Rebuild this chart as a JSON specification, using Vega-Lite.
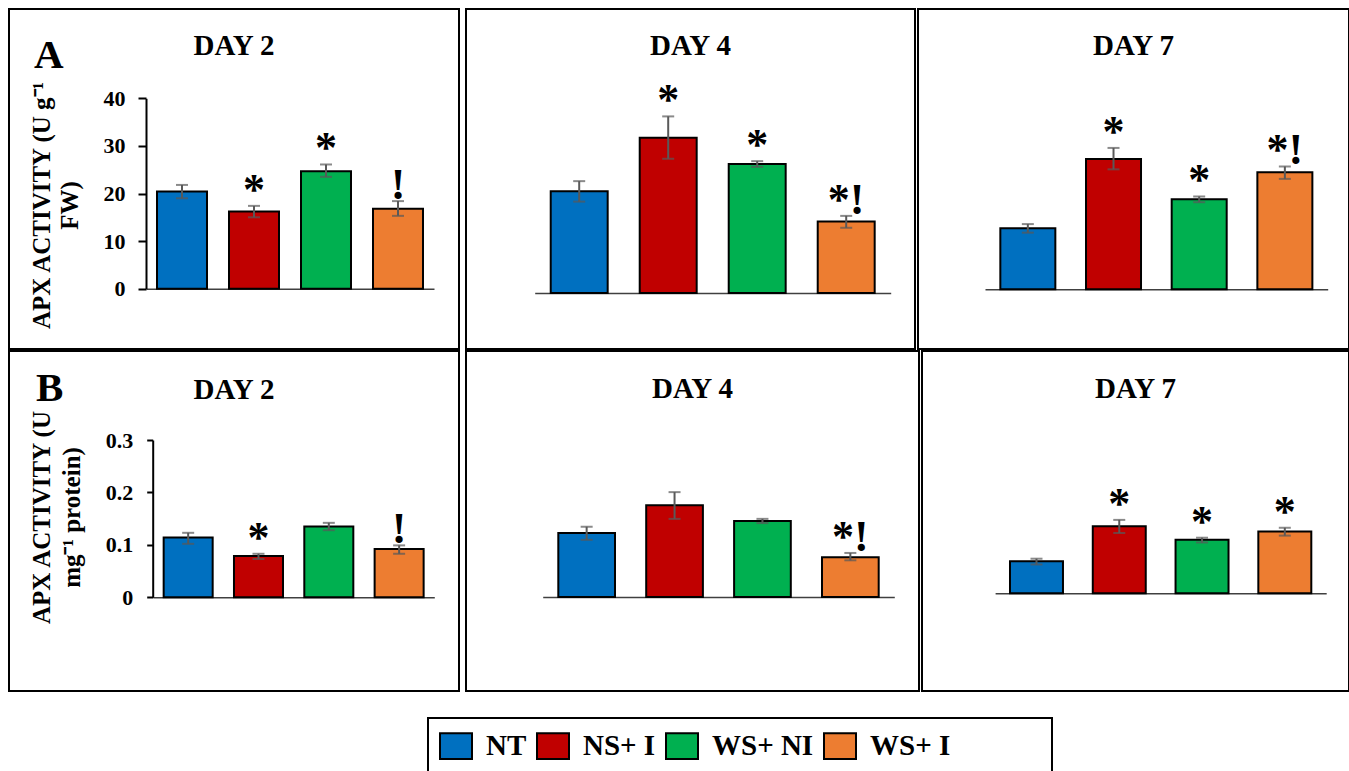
{
  "$schema": "https://vega.github.io/schema/vega-lite/v6.json",
  "padding": {"left": 8, "top": 8, "right": 0, "bottom": 0},
  "background": "#ffffff",
  "data": {"values": [
    {"row": "A", "day": 2, "trt": "NT", "value": 20.4, "lo": 19.0, "hi": 21.8, "sig": ""},
    {"row": "A", "day": 2, "trt": "NS+ I", "value": 16.2, "lo": 15.0, "hi": 17.4, "sig": "*"},
    {"row": "A", "day": 2, "trt": "WS+ NI", "value": 24.7, "lo": 23.5, "hi": 26.1, "sig": "*"},
    {"row": "A", "day": 2, "trt": "WS+ I", "value": 16.8, "lo": 15.3, "hi": 18.4, "sig": "!"},
    {"row": "A", "day": 4, "trt": "NT", "value": 21.4, "lo": 19.2, "hi": 23.5, "sig": ""},
    {"row": "A", "day": 4, "trt": "NS+ I", "value": 32.6, "lo": 28.2, "hi": 37.1, "sig": "*"},
    {"row": "A", "day": 4, "trt": "WS+ NI", "value": 27.1, "lo": 26.5, "hi": 27.7, "sig": "*"},
    {"row": "A", "day": 4, "trt": "WS+ I", "value": 15.0, "lo": 13.7, "hi": 16.2, "sig": "*!"},
    {"row": "A", "day": 7, "trt": "NT", "value": 12.8, "lo": 11.9, "hi": 13.7, "sig": ""},
    {"row": "A", "day": 7, "trt": "NS+ I", "value": 27.4, "lo": 25.2, "hi": 29.7, "sig": "*"},
    {"row": "A", "day": 7, "trt": "WS+ NI", "value": 18.9, "lo": 18.3, "hi": 19.5, "sig": "*"},
    {"row": "A", "day": 7, "trt": "WS+ I", "value": 24.6, "lo": 23.2, "hi": 25.8, "sig": "*!"},
    {"row": "B", "day": 2, "trt": "NT", "value": 0.114, "lo": 0.102, "hi": 0.123, "sig": ""},
    {"row": "B", "day": 2, "trt": "NS+ I", "value": 0.079, "lo": 0.073, "hi": 0.083, "sig": "*"},
    {"row": "B", "day": 2, "trt": "WS+ NI", "value": 0.135, "lo": 0.128, "hi": 0.142, "sig": ""},
    {"row": "B", "day": 2, "trt": "WS+ I", "value": 0.092, "lo": 0.083, "hi": 0.099, "sig": "!"},
    {"row": "B", "day": 4, "trt": "NT", "value": 0.122, "lo": 0.109, "hi": 0.134, "sig": ""},
    {"row": "B", "day": 4, "trt": "NS+ I", "value": 0.175, "lo": 0.149, "hi": 0.200, "sig": ""},
    {"row": "B", "day": 4, "trt": "WS+ NI", "value": 0.145, "lo": 0.141, "hi": 0.149, "sig": ""},
    {"row": "B", "day": 4, "trt": "WS+ I", "value": 0.076, "lo": 0.070, "hi": 0.084, "sig": "*!"},
    {"row": "B", "day": 7, "trt": "NT", "value": 0.061, "lo": 0.055, "hi": 0.066, "sig": ""},
    {"row": "B", "day": 7, "trt": "NS+ I", "value": 0.128, "lo": 0.115, "hi": 0.140, "sig": "*"},
    {"row": "B", "day": 7, "trt": "WS+ NI", "value": 0.102, "lo": 0.097, "hi": 0.106, "sig": "*"},
    {"row": "B", "day": 7, "trt": "WS+ I", "value": 0.118, "lo": 0.110, "hi": 0.125, "sig": "*"}
  ]},
  "spacing": 0,
  "vconcat": [
    {
      "title": {"text": "A", "anchor": "start", "frame": "bounds", "offset": -69, "dx": 26, "fontSize": 41},
      "spacing": 5,
      "hconcat": [
        {
          "width": 450, "height": 340,
          "title": {"text": "DAY 2", "offset": -52},
          "transform": [{"filter": "datum.row == 'A' && datum.day == 2"}],
          "layer": [
            {"mark": {"type": "bar", "stroke": "#000", "strokeWidth": 2},
             "encoding": {
               "x": {"field": "trt", "type": "nominal", "scale": {"domain": ["NT", "NS+ I", "WS+ NI", "WS+ I"], "range": [137, 425], "paddingInner": 0.3056, "paddingOuter": 0.1528},
                     "axis": {"orient": "bottom", "offset": -60.3, "labels": false, "ticks": false, "title": null, "domainColor": "#404040", "domainWidth": 1.5}},
               "y": {"field": "value", "type": "quantitative", "scale": {"domain": [0, 40], "range": [279.7, 89.3], "nice": false},
                     "axis": {"values": [0, 10, 20, 30, 40], "format": "~g", "offset": -137, "domainColor": "#000", "domainWidth": 2, "tickColor": "#000", "tickWidth": 2, "tickSize": 8, "labelFontSize": 22, "labelPadding": 13,
                              "title": ["APX ACTIVITY (U g⁻¹", "FW)"], "titleFontSize": 25, "titleAngle": -90, "titleX": -105, "titleY": 196, "titleAlign": "center", "titleBaseline": "middle", "titleLineHeight": 28}},
               "color": {"field": "trt", "type": "nominal", "scale": {"domain": ["NT", "NS+ I", "WS+ NI", "WS+ I"], "range": ["#0070C0", "#C00000", "#00B050", "#ED7D31"]},
                         "legend": {"orient": "none", "legendX": 419, "legendY": 709, "direction": "horizontal", "columns": 4,
                                    "title": "\u2800\u2800\u2800\u2800", "titleOrient": "right", "titleFontSize": 29, "titlePadding": 7,
                                    "symbolType": "M-1,-0.8H1V0.8H-1Z", "symbolSize": 1024, "symbolStrokeColor": "#000", "symbolStrokeWidth": 2, "symbolOpacity": 1,
                                    "labelFontSize": 29, "labelOffset": 13, "columnPadding": 6, "padding": 11, "strokeColor": "#000",
                                    "encode": {"legend": {"update": {"strokeWidth": {"value": 2}}}}}}
             }},
            {"mark": {"type": "rule", "color": "#595959", "strokeWidth": 2},
             "encoding": {"x": {"field": "trt", "type": "nominal"}, "y": {"field": "lo", "type": "quantitative"}, "y2": {"field": "hi"}}},
            {"mark": {"type": "tick", "color": "#595959", "size": 12, "thickness": 2},
             "encoding": {"x": {"field": "trt", "type": "nominal"}, "y": {"field": "lo", "type": "quantitative"}}},
            {"mark": {"type": "tick", "color": "#595959", "size": 12, "thickness": 2},
             "encoding": {"x": {"field": "trt", "type": "nominal"}, "y": {"field": "hi", "type": "quantitative"}}},
            {"mark": {"type": "text", "fontSize": 44, "fontWeight": "bold", "baseline": "alphabetic", "align": "center", "color": "#000", "dy": -2},
             "encoding": {"x": {"field": "trt", "type": "nominal"}, "y": {"field": "hi", "type": "quantitative"}, "text": {"field": "sig"}}}
          ]
        },
        {
          "spacing": 1,
          "hconcat": [
            {
              "width": 449, "height": 340,
              "title": {"text": "DAY 4", "offset": -52},
              "transform": [{"filter": "datum.row == 'A' && datum.day == 4"}],
              "layer": [
                {"mark": {"type": "bar", "stroke": "#000", "strokeWidth": 2},
                 "encoding": {
                   "x": {"field": "trt", "type": "nominal", "scale": {"domain": ["NT", "NS+ I", "WS+ NI", "WS+ I"], "range": [68.7, 424.7], "paddingInner": 0.36, "paddingOuter": 0.18},
                         "axis": {"orient": "bottom", "offset": -56, "labels": false, "ticks": false, "title": null, "domainColor": "#404040", "domainWidth": 1.5}},
                   "y": {"field": "value", "type": "quantitative", "scale": {"domain": [0, 40], "range": [284, 93.6], "nice": false}, "axis": null},
                   "color": {"field": "trt", "type": "nominal"}
                 }},
                {"mark": {"type": "errorbar", "color": "#595959", "ticks": {"size": 12, "thickness": 2}, "rule": {"strokeWidth": 2}},
                 "encoding": {"x": {"field": "trt", "type": "nominal"}, "y": {"field": "lo", "type": "quantitative", "axis": null}, "y2": {"field": "hi"}}},
                {"mark": {"type": "text", "fontSize": 44, "fontWeight": "bold", "baseline": "alphabetic", "align": "center", "color": "#000", "dy": -2},
                 "encoding": {"x": {"field": "trt", "type": "nominal"}, "y": {"field": "hi", "type": "quantitative", "axis": null}, "text": {"field": "sig"}}}
              ]
            },
            {
              "width": 431, "height": 340,
              "title": {"text": "DAY 7", "offset": -52},
              "transform": [{"filter": "datum.row == 'A' && datum.day == 7"}],
              "layer": [
                {"mark": {"type": "bar", "stroke": "#000", "strokeWidth": 2},
                 "encoding": {
                   "x": {"field": "trt", "type": "nominal", "scale": {"domain": ["NT", "NS+ I", "WS+ NI", "WS+ I"], "range": [67, 409.7], "paddingInner": 0.358, "paddingOuter": 0.179},
                         "axis": {"orient": "bottom", "offset": -59.7, "labels": false, "ticks": false, "title": null, "domainColor": "#404040", "domainWidth": 1.5}},
                   "y": {"field": "value", "type": "quantitative", "scale": {"domain": [0, 40], "range": [280.3, 89.9], "nice": false}, "axis": null},
                   "color": {"field": "trt", "type": "nominal"}
                 }},
                {"mark": {"type": "errorbar", "color": "#595959", "ticks": {"size": 12, "thickness": 2}, "rule": {"strokeWidth": 2}},
                 "encoding": {"x": {"field": "trt", "type": "nominal"}, "y": {"field": "lo", "type": "quantitative", "axis": null}, "y2": {"field": "hi"}}},
                {"mark": {"type": "text", "fontSize": 44, "fontWeight": "bold", "baseline": "alphabetic", "align": "center", "color": "#000", "dy": -2},
                 "encoding": {"x": {"field": "trt", "type": "nominal"}, "y": {"field": "hi", "type": "quantitative", "axis": null}, "text": {"field": "sig"}}}
              ]
            }
          ]
        }
      ]
    },
    {
      "title": {"text": "B", "anchor": "start", "frame": "bounds", "offset": -60, "dx": 28, "fontSize": 41},
      "spacing": 5,
      "hconcat": [
        {
          "width": 450, "height": 340,
          "title": {"text": "DAY 2", "offset": -53.5},
          "transform": [{"filter": "datum.row == 'B' && datum.day == 2"}],
          "layer": [
            {"mark": {"type": "bar", "stroke": "#000", "strokeWidth": 2},
             "encoding": {
               "x": {"field": "trt", "type": "nominal", "scale": {"domain": ["NT", "NS+ I", "WS+ NI", "WS+ I"], "range": [144, 425.3], "paddingInner": 0.303, "paddingOuter": 0.1516},
                     "axis": {"orient": "bottom", "offset": -93.7, "labels": false, "ticks": false, "title": null, "domainColor": "#404040", "domainWidth": 1.5}},
               "y": {"field": "value", "type": "quantitative", "scale": {"domain": [0, 0.3], "range": [246.3, 89], "nice": false},
                     "axis": {"values": [0, 0.1, 0.2, 0.3], "format": "~g", "offset": -143.7, "domainColor": "#000", "domainWidth": 2, "tickColor": "#000", "tickWidth": 2, "tickSize": 6, "labelFontSize": 22, "labelPadding": 14,
                              "title": ["APX ACTIVITY (U", "mg⁻¹ protein)"], "titleFontSize": 25, "titleAngle": -90, "titleX": -111.7, "titleY": 166, "titleAlign": "center", "titleBaseline": "middle", "titleLineHeight": 30}},
               "color": {"field": "trt", "type": "nominal"}
             }},
            {"mark": {"type": "rule", "color": "#595959", "strokeWidth": 2},
             "encoding": {"x": {"field": "trt", "type": "nominal"}, "y": {"field": "lo", "type": "quantitative"}, "y2": {"field": "hi"}}},
            {"mark": {"type": "tick", "color": "#595959", "size": 12, "thickness": 2},
             "encoding": {"x": {"field": "trt", "type": "nominal"}, "y": {"field": "lo", "type": "quantitative"}}},
            {"mark": {"type": "tick", "color": "#595959", "size": 12, "thickness": 2},
             "encoding": {"x": {"field": "trt", "type": "nominal"}, "y": {"field": "hi", "type": "quantitative"}}},
            {"mark": {"type": "text", "fontSize": 44, "fontWeight": "bold", "baseline": "alphabetic", "align": "center", "color": "#000", "dy": -2},
             "encoding": {"x": {"field": "trt", "type": "nominal"}, "y": {"field": "hi", "type": "quantitative"}, "text": {"field": "sig"}}}
          ]
        },
        {
          "spacing": 1,
          "hconcat": [
            {
              "width": 453, "height": 340,
              "title": {"text": "DAY 4", "offset": -53},
              "transform": [{"filter": "datum.row == 'B' && datum.day == 4"}],
              "layer": [
                {"mark": {"type": "bar", "stroke": "#000", "strokeWidth": 2},
                 "encoding": {
                   "x": {"field": "trt", "type": "nominal", "scale": {"domain": ["NT", "NS+ I", "WS+ NI", "WS+ I"], "range": [76.7, 428.3], "paddingInner": 0.355, "paddingOuter": 0.1775},
                         "axis": {"orient": "bottom", "offset": -94, "labels": false, "ticks": false, "title": null, "domainColor": "#404040", "domainWidth": 1.5}},
                   "y": {"field": "value", "type": "quantitative", "scale": {"domain": [0, 0.3], "range": [246, 88.7], "nice": false}, "axis": null},
                   "color": {"field": "trt", "type": "nominal"}
                 }},
                {"mark": {"type": "errorbar", "color": "#595959", "ticks": {"size": 12, "thickness": 2}, "rule": {"strokeWidth": 2}},
                 "encoding": {"x": {"field": "trt", "type": "nominal"}, "y": {"field": "lo", "type": "quantitative", "axis": null}, "y2": {"field": "hi"}}},
                {"mark": {"type": "text", "fontSize": 44, "fontWeight": "bold", "baseline": "alphabetic", "align": "center", "color": "#000", "dy": -2},
                 "encoding": {"x": {"field": "trt", "type": "nominal"}, "y": {"field": "hi", "type": "quantitative", "axis": null}, "text": {"field": "sig"}}}
              ]
            },
            {
              "width": 427, "height": 340,
              "title": {"text": "DAY 7", "offset": -53},
              "transform": [{"filter": "datum.row == 'B' && datum.day == 7"}],
              "layer": [
                {"mark": {"type": "bar", "stroke": "#000", "strokeWidth": 2},
                 "encoding": {
                   "x": {"field": "trt", "type": "nominal", "scale": {"domain": ["NT", "NS+ I", "WS+ NI", "WS+ I"], "range": [73.1, 404.2], "paddingInner": 0.36, "paddingOuter": 0.18},
                         "axis": {"orient": "bottom", "offset": -97.7, "labels": false, "ticks": false, "title": null, "domainColor": "#404040", "domainWidth": 1.5}},
                   "y": {"field": "value", "type": "quantitative", "scale": {"domain": [0, 0.3], "range": [242.3, 85], "nice": false}, "axis": null},
                   "color": {"field": "trt", "type": "nominal"}
                 }},
                {"mark": {"type": "errorbar", "color": "#595959", "ticks": {"size": 12, "thickness": 2}, "rule": {"strokeWidth": 2}},
                 "encoding": {"x": {"field": "trt", "type": "nominal"}, "y": {"field": "lo", "type": "quantitative", "axis": null}, "y2": {"field": "hi"}}},
                {"mark": {"type": "text", "fontSize": 44, "fontWeight": "bold", "baseline": "alphabetic", "align": "center", "color": "#000", "dy": -2},
                 "encoding": {"x": {"field": "trt", "type": "nominal"}, "y": {"field": "hi", "type": "quantitative", "axis": null}, "text": {"field": "sig"}}}
              ]
            }
          ]
        }
      ]
    }
  ],
  "config": {
    "font": "Liberation Serif",
    "view": {"stroke": "#000", "strokeWidth": 2},
    "title": {"font": "Liberation Serif", "fontSize": 29, "fontWeight": "bold", "color": "#000", "baseline": "alphabetic", "frame": "group", "anchor": "middle"},
    "axis": {"grid": false, "labelFont": "Liberation Serif", "labelFontWeight": "bold", "labelColor": "#000", "titleFont": "Liberation Serif", "titleFontWeight": "bold", "titleColor": "#000"},
    "legend": {"labelFont": "Liberation Serif", "labelFontWeight": "bold", "labelColor": "#000", "titleFont": "Liberation Serif"},
    "text": {"font": "Liberation Serif"}
  }
}
